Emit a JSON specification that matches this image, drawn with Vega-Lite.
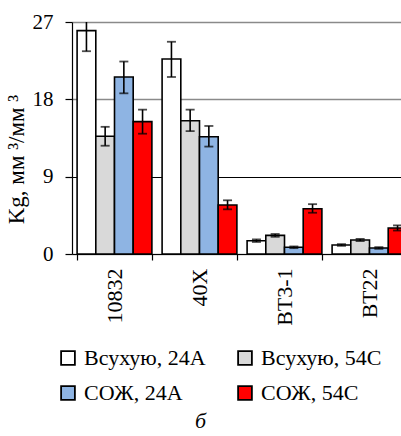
{
  "$schema": "https://vega.github.io/schema/vega-lite/v6.json",
  "autosize": "none",
  "width": 329,
  "height": 232,
  "padding": {"left": 72, "top": 22, "right": 0, "bottom": 182},
  "background": "white",
  "config": {"view": {"stroke": null}, "font": "'Liberation Serif', serif", "axis": {"labelFont": "'Liberation Serif', serif", "titleFont": "'Liberation Serif', serif"}, "legend": {"labelFont": "'Liberation Serif', serif"}},
  "data": {"values": [
    {"m": "10832", "c": "Всухую, 24А", "v": 26.0, "lo": 23.6, "hi": 28.4},
    {"m": "10832", "c": "Всухую, 54С", "v": 13.7, "lo": 12.6, "hi": 14.8},
    {"m": "10832", "c": "СОЖ, 24А", "v": 20.6, "lo": 18.7, "hi": 22.4},
    {"m": "10832", "c": "СОЖ, 54С", "v": 15.4, "lo": 14.0, "hi": 16.8},
    {"m": "40Х", "c": "Всухую, 24А", "v": 22.7, "lo": 20.6, "hi": 24.7},
    {"m": "40Х", "c": "Всухую, 54С", "v": 15.5, "lo": 14.3, "hi": 16.8},
    {"m": "40Х", "c": "СОЖ, 24А", "v": 13.65, "lo": 12.5, "hi": 14.9},
    {"m": "40Х", "c": "СОЖ, 54С", "v": 5.7, "lo": 5.2, "hi": 6.25},
    {"m": "ВТ3-1", "c": "Всухую, 24А", "v": 1.55, "lo": 1.4, "hi": 1.7},
    {"m": "ВТ3-1", "c": "Всухую, 54С", "v": 2.17, "lo": 2.0, "hi": 2.33},
    {"m": "ВТ3-1", "c": "СОЖ, 24А", "v": 0.78, "lo": 0.68, "hi": 0.88},
    {"m": "ВТ3-1", "c": "СОЖ, 54С", "v": 5.27, "lo": 4.8, "hi": 5.8},
    {"m": "ВТ22", "c": "Всухую, 24А", "v": 1.05, "lo": 0.95, "hi": 1.15},
    {"m": "ВТ22", "c": "Всухую, 54С", "v": 1.63, "lo": 1.5, "hi": 1.76},
    {"m": "ВТ22", "c": "СОЖ, 24А", "v": 0.7, "lo": 0.6, "hi": 0.8},
    {"m": "ВТ22", "c": "СОЖ, 54С", "v": 3.03, "lo": 2.73, "hi": 3.33}
  ]},
  "encoding": {
    "x": {
      "field": "m", "type": "nominal", "sort": ["10832", "40Х", "ВТ3-1", "ВТ22"],
      "scale": {"range": [0, 340], "paddingInner": 0.12, "paddingOuter": 0.06},
      "axis": {
        "title": "б", "titleFontSize": 22, "titleFontStyle": "italic", "titleFontWeight": "normal",
        "titleX": 128, "titleY": 156, "titleColor": "black",
        "labelAngle": -90, "labelFontSize": 22, "labelColor": "black", "labelPadding": 8,
        "domainColor": "black", "domainWidth": 1.2, "tickColor": "black", "tickBand": "extent", "tickSize": 6, "tickWidth": 1.2,
        "grid": false
      }
    },
    "xOffset": {"field": "c", "type": "nominal", "sort": ["Всухую, 24А", "Всухую, 54С", "СОЖ, 24А", "СОЖ, 54С"], "scale": {"paddingInner": 0, "paddingOuter": 0}}
  },
  "layer": [
    {
      "mark": {"type": "bar", "stroke": "black", "strokeWidth": 1.6, "clip": true},
      "encoding": {
        "y": {
          "field": "v", "type": "quantitative",
          "scale": {"domain": [0, 27], "nice": false},
          "axis": {
            "values": [0, 9, 18, 27], "title": "Kg, мм ³/мм ³",
            "titleFontSize": 23, "titleFontWeight": "normal", "titleColor": "black",
            "titleX": -44, "titleY": 137,
            "labelFontSize": 21, "labelColor": "black", "labelPadding": 12,
            "domainColor": "black", "domainWidth": 1.2, "tickColor": "black", "tickSize": 7, "tickWidth": 1.2,
            "grid": true, "gridColor": {"condition": {"test": "datum.value === 9", "value": "black"}, "value": "#8a8a8a"},
            "gridWidth": {"condition": {"test": "datum.value === 9", "value": 1}, "value": 1.6}
          }
        },
        "fill": {
          "field": "c", "type": "nominal",
          "scale": {"domain": ["Всухую, 24А", "Всухую, 54С", "СОЖ, 24А", "СОЖ, 54С"], "range": ["#ffffff", "#d9d9d9", "#8eb4e3", "#ff0000"]},
          "legend": {
            "orient": "none", "legendX": -15, "legendY": 325, "direction": "horizontal", "columns": 2, "title": null,
            "symbolType": "square", "symbolSize": 190, "symbolStrokeColor": "black", "symbolStrokeWidth": 1.8,
            "labelFontSize": 22, "labelColor": "black", "labelLimit": 300, "labelOffset": 5,
            "columnPadding": 28, "rowPadding": 13
          }
        }
      }
    },
    {
      "mark": {"type": "rule", "color": "black", "strokeWidth": 1.6, "clip": true},
      "encoding": {"y": {"field": "lo", "type": "quantitative"}, "y2": {"field": "hi"}}
    },
    {
      "mark": {"type": "tick", "color": "black", "thickness": 1.8, "size": 9, "clip": true},
      "encoding": {"y": {"field": "lo", "type": "quantitative"}}
    },
    {
      "mark": {"type": "tick", "color": "black", "thickness": 1.8, "size": 9, "clip": true},
      "encoding": {"y": {"field": "hi", "type": "quantitative"}}
    }
  ]
}
